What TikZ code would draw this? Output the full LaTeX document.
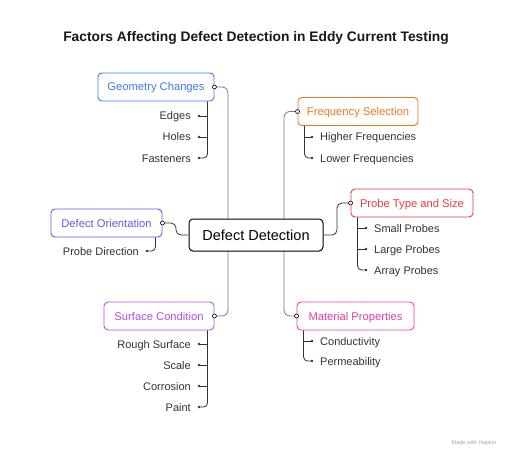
\documentclass[tikz,border=0pt]{standalone}
\usepackage{fontspec}
\setmainfont{Liberation Sans}
\usetikzlibrary{calc}
\definecolor{cGC}{HTML}{3B7BF0}
\definecolor{cDO}{HTML}{6C55F2}
\definecolor{cFS}{HTML}{EE7A1F}
\definecolor{cPT}{HTML}{EC3B3B}
\definecolor{cSC}{HTML}{B84DE6}
\definecolor{cMP}{HTML}{E43FA8}
\definecolor{txt}{HTML}{333333}
\definecolor{trunk}{HTML}{7A7A7A}
\begin{document}
\begin{tikzpicture}[x=1pt,y=-1pt,
  cat/.style={draw=#1, text=#1, rounded corners=4pt, line width=0.9pt, fill=white,
    minimum height=28pt, inner sep=0pt, text height=8pt, text depth=0pt,
    font=\fontsize{11.2}{13}\selectfont},
  leaf/.style={text=txt, inner ysep=0pt, text height=8pt, text depth=0pt,
    font=\fontsize{11}{13}\selectfont},
  leafL/.style={leaf, anchor=east, inner xsep=8pt},
  leafR/.style={leaf, anchor=west, inner xsep=8pt},
  trunkline/.style={draw=trunk, line width=0.8pt, rounded corners=6pt},
  childline/.style={draw=txt, line width=0.8pt, rounded corners=4pt},
  port/.style={draw=black, fill=white, line width=0.6pt},
  dotmark/.style={fill=txt}]
\useasboundingbox (0,0) rectangle (512,460);
\fill[white] (0,0) rectangle (512,460);

% title
\node[font=\bfseries\fontsize{13.8}{17}\selectfont, text=black!90, text height=10pt, text depth=0pt] (title) at (256,37)
  {Factors Affecting Defect Detection in Eddy Current Testing};

% category nodes
\node[cat=cGC, minimum width=116pt] (gc) at (156,87) {Geometry Changes};
\node[cat=cDO, minimum width=111pt] (do) at (106.5,223) {Defect Orientation};
\node[cat=cFS, minimum width=120pt] (fs) at (358,111.5) {Frequency Selection};
\node[cat=cPT, minimum width=122pt] (pt) at (412,203) {Probe Type and Size};
\node[cat=cSC, minimum width=110pt] (sc) at (159,316) {Surface Condition};
\node[cat=cMP, minimum width=117pt] (mp) at (355.5,316) {Material Properties};

% trunks (behind central node)
\coordinate (tl) at (228,0);
\coordinate (tr) at (284,0);
\draw[trunkline] (gc.east) -| (tl |- sc.east) -- (sc.east);
\draw[trunkline] (fs.west) -| (tr |- mp.west) -- (mp.west);

% central node
\node[draw=black, fill=white, rounded corners=4pt, line width=1pt, minimum width=134pt,
  minimum height=32pt, inner sep=0pt, text height=10.5pt, text depth=0pt,
  font=\fontsize{14.5}{17}\selectfont] (dd) at (256,235) {Defect Detection};

\coordinate (ml) at (176,0);
\coordinate (mr) at (337,0);
\draw[trunkline, draw=black!80, rounded corners=5pt] (do.east) -| (ml |- dd.west) -- (dd.west);
\draw[trunkline, draw=black!80, rounded corners=5pt] (dd.east) -| (mr |- pt.west) -- (pt.west);

% leaves
\node[leafL] (g1) at (199,116) {Edges};
\node[leafL] (g2) at (199,137) {Holes};
\node[leafL] (g3) at (199,158) {Fasteners};
\node[leafL] (o1) at (147,251) {Probe Direction};
\node[leafR] (f1) at (312,137) {Higher Frequencies};
\node[leafR] (f2) at (312,158) {Lower Frequencies};
\node[leafR] (p1) at (366,228) {Small Probes};
\node[leafR] (p2) at (366,249) {Large Probes};
\node[leafR] (p3) at (366,270) {Array Probes};
\node[leafL] (s1) at (199,344) {Rough Surface};
\node[leafL] (s2) at (199,365) {Scale};
\node[leafL] (s3) at (199,386) {Corrosion};
\node[leafL] (s4) at (199,407) {Paint};
\node[leafR] (m1) at (312,341) {Conductivity};
\node[leafR] (m2) at (312,361) {Permeability};

% child lines
\coordinate (gcl) at ([xshift=-7pt]gc.south east);
\draw[childline] (gcl) |- (g3.east);
\draw[childline] (gcl |- g1.east) -- (g1.east);
\draw[childline] (gcl |- g2.east) -- (g2.east);

\coordinate (dol) at ([xshift=-7pt]do.south east);
\draw[childline] (dol) |- (o1.east);

\coordinate (fsl) at ([xshift=7pt]fs.south west);
\draw[childline] (fsl) |- (f2.west);
\draw[childline] (fsl |- f1.west) -- (f1.west);

\coordinate (ptl) at ([xshift=7pt]pt.south west);
\draw[childline] (ptl) |- (p3.west);
\draw[childline] (ptl |- p1.west) -- (p1.west);
\draw[childline] (ptl |- p2.west) -- (p2.west);

\coordinate (scl) at ([xshift=-7pt]sc.south east);
\draw[childline] (scl) |- (s4.east);
\draw[childline] (scl |- s1.east) -- (s1.east);
\draw[childline] (scl |- s2.east) -- (s2.east);
\draw[childline] (scl |- s3.east) -- (s3.east);

\coordinate (mpl) at ([xshift=7pt]mp.south west);
\draw[childline] (mpl) |- (m2.west);
\draw[childline] (mpl |- m1.west) -- (m1.west);

% dots
\foreach \n in {g1,g2,g3,o1,s1,s2,s3,s4} \fill[dotmark] (\n.east) circle (1.3pt);
\foreach \n in {f1,f2,p1,p2,p3,m1,m2} \fill[dotmark] (\n.west) circle (1.3pt);

% ports
\draw[port] (gc.east) circle (2pt);
\draw[port] (do.east) circle (2pt);
\draw[port] (sc.east) circle (2pt);
\draw[port] (fs.west) circle (2pt);
\draw[port] (pt.west) circle (2pt);
\draw[port] (mp.west) circle (2pt);

% watermark
\node[text=black!35, font=\fontsize{5.5}{6}\selectfont] (wm) at (474,443) {Made with \,Napkin};
\end{tikzpicture}
\end{document}
